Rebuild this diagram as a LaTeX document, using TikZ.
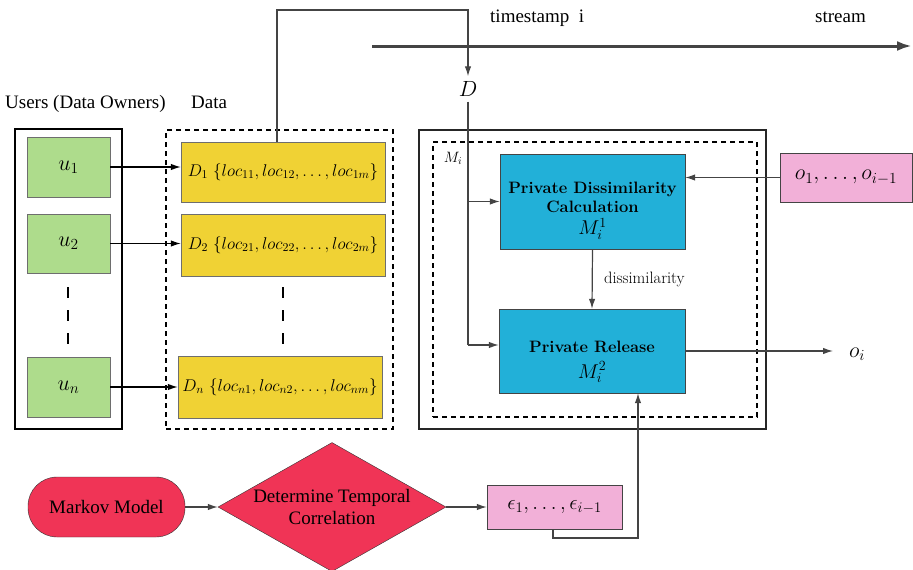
\RequirePackage{fix-cm}
\documentclass[tikz,border=0pt]{standalone}
\usepackage{fontspec}
\newfontfamily\tms{Liberation Serif}
\usetikzlibrary{arrows.meta,shapes.geometric}
\definecolor{ugreen}{RGB}{174,220,140}
\definecolor{dyellow}{RGB}{240,210,52}
\definecolor{mblue}{RGB}{34,176,216}
\definecolor{opink}{RGB}{242,176,216}
\definecolor{cred}{RGB}{240,52,86}
\definecolor{arr}{RGB}{68,68,68}
\definecolor{bord}{RGB}{110,110,110}
\begin{document}
\begin{tikzpicture}[x=1pt,y=-1pt,
  box/.style={draw, rectangle, inner sep=0pt},
  lab/.style={font={\tms\fontsize{19}{22}\selectfont}},
  mth/.style={font={\fontsize{17}{20}\selectfont}},
  bigm/.style={font={\fontsize{22}{24}\selectfont}},
  bld/.style={font={\bfseries\fontsize{16.5}{19}\selectfont}, align=center},
  arrow/.style={draw=arr, line width=1.2pt, -{Latex[length=10pt,width=6.5pt]}},
  conn/.style={draw=arr, line width=1.2pt},
  vdash/.style={draw=black, line width=2pt, dash pattern=on 11pt off 12pt}]
\useasboundingbox (0,0) rectangle (913,570);

% headers
\node[lab, anchor=base west, inner sep=0] (uhead) at (5,108) {Users (Data Owners)};
\node[lab, anchor=base west, inner sep=0] (dhead) at (191,108) {Data};
\node[lab, anchor=base west, inner sep=0] (ts) at (490,23) {timestamp\ \ i};
\node[lab, anchor=base west, inner sep=0] (st) at (815,23) {stream};

% stream arrow
\coordinate (s1) at (372,46);
\coordinate (s2) at (912,46);
\draw[draw=arr, line width=3pt, -{Latex[length=15pt,width=10pt]}] (s1) -- (s2);

% users
\node[box, line width=1.5pt, minimum width=107, minimum height=300] (users) at (68.5,279) {};
\node[box, draw=bord, fill=ugreen, minimum width=83, minimum height=60, bigm] (u1) at (68.5,167) {$u_1$};
\node[box, draw=bord, fill=ugreen, minimum width=83, minimum height=59, bigm] (u2) at (68.5,243.5) {$u_2$};
\node[box, draw=bord, fill=ugreen, minimum width=83, minimum height=60, bigm] (un) at (68.5,387) {$u_n$};
\coordinate (ud1) at (68,287);
\coordinate (ud2) at (68,345);
\draw[vdash] (ud1) -- (ud2);

% data
\node[box, line width=1.5pt, dashed, dash pattern=on 5pt off 4pt, minimum width=227, minimum height=299] (data) at (279.5,279.5) {};
\node[box, draw=bord, fill=dyellow, minimum width=204, minimum height=60, mth] (D1) at (283,172) {$D_1\ \{loc_{11}, loc_{12}, \ldots, loc_{1m}\}$};
\node[box, draw=bord, fill=dyellow, minimum width=204, minimum height=62, mth] (D2) at (283,245) {$D_2\ \{loc_{21}, loc_{22}, \ldots, loc_{2m}\}$};
\node[box, draw=bord, fill=dyellow, minimum width=204, minimum height=62, mth] (Dn) at (280,387) {$D_n\ \{loc_{n1}, loc_{n2}, \ldots, loc_{nm}\}$};
\coordinate (dd1) at (283,287);
\coordinate (dd2) at (283,345);
\draw[vdash] (dd1) -- (dd2);

\draw[arrow, draw=black] (u1.east) -- (u1.east -| D1.west);
\draw[arrow, draw=black] (u2.east) -- (u2.east -| D2.west);
\draw[arrow, draw=black] (un.east) -- (un.east -| Dn.west);

% D label and top connector
\node[bigm, inner sep=5pt] (Dl) at (468,89) {$D$};
\coordinate (t0) at (277,142);
\coordinate (t1) at (277,10);
\coordinate (t2) at (468,10);
\draw[arrow] (t0) -- (t1) -- (t2) -- (Dl.north);

% mechanism
\node[box, line width=2.5pt, draw=black!85, minimum width=347, minimum height=299] (outer) at (592.5,279.5) {};
\node[box, line width=1.5pt, dashed, dash pattern=on 5pt off 4pt, minimum width=324, minimum height=275] (inner) at (595,279.5) {};
\node[font={\fontsize{15}{17}\selectfont}, inner sep=0] (Mi) at (453,158) {$M_i$};
\node[box, draw=arr, fill=mblue, minimum width=185, minimum height=95, bld] (calc) at (592.5,201.5) {\rule{0pt}{30pt}Private Dissimilarity\\Calculation\\[3.5pt]\mdseries\fontsize{20}{22}\selectfont$M_i^1$};
\node[box, draw=arr, fill=mblue, minimum width=186, minimum height=84, bld] (rel) at (592,351) {\rule{0pt}{33pt}Private Release\\[7pt]\mdseries\fontsize{20}{22}\selectfont$M_i^2$};
\node[box, draw=arr, fill=opink, minimum width=132, minimum height=49, font={\fontsize{22}{24}\selectfont}] (obox) at (846,177.5) {$o_1,\ldots,o_{i-1}$};
\node[bigm, inner sep=0] (oi) at (857,354) {$o_i$};

\coordinate (j1) at (468,201.5);
\coordinate (j2) at (468,345);
\coordinate (oe) at (833,351);
\draw[conn] (Dl.south) -- (j2);
\draw[arrow] (j1) -- (calc.west);
\draw[arrow] (j2) -- (j2 -| rel.west);
\draw[arrow] (calc.south) -- node[right, font={\fontsize{16.5}{18}\selectfont}, xshift=8pt] {dissimilarity} (rel.north);
\draw[arrow] (obox.west) -- (obox.west -| calc.east);
\draw[arrow] (rel.east) -- (oe);

% bottom
\node[draw=black!80, fill=cred, rounded corners=29pt, minimum width=157, minimum height=60, inner sep=0, lab] (markov) at (106.5,507) {Markov Model};
\node[diamond, draw=black!80, fill=cred, aspect=1.77, inner sep=0pt, minimum width=228, minimum height=129, align=center, lab] (dia) at (332,507) {Determine Temporal\\Correlation};
\node[box, draw=arr, fill=opink, minimum width=135, minimum height=44, font={\fontsize{21}{23}\selectfont}] (eps) at (554.5,507) {$\epsilon_1,\ldots,\epsilon_{i-1}$};
\draw[arrow] (markov.east) -- (dia.west);
\draw[arrow] (dia.east) -- (eps.west);
\coordinate (c1) at (553,538);
\coordinate (c2) at (638,538);
\draw[arrow] (eps.south -| c1) -- (c1) -- (c2) -- (c2 |- rel.south);
\end{tikzpicture}
\end{document}
